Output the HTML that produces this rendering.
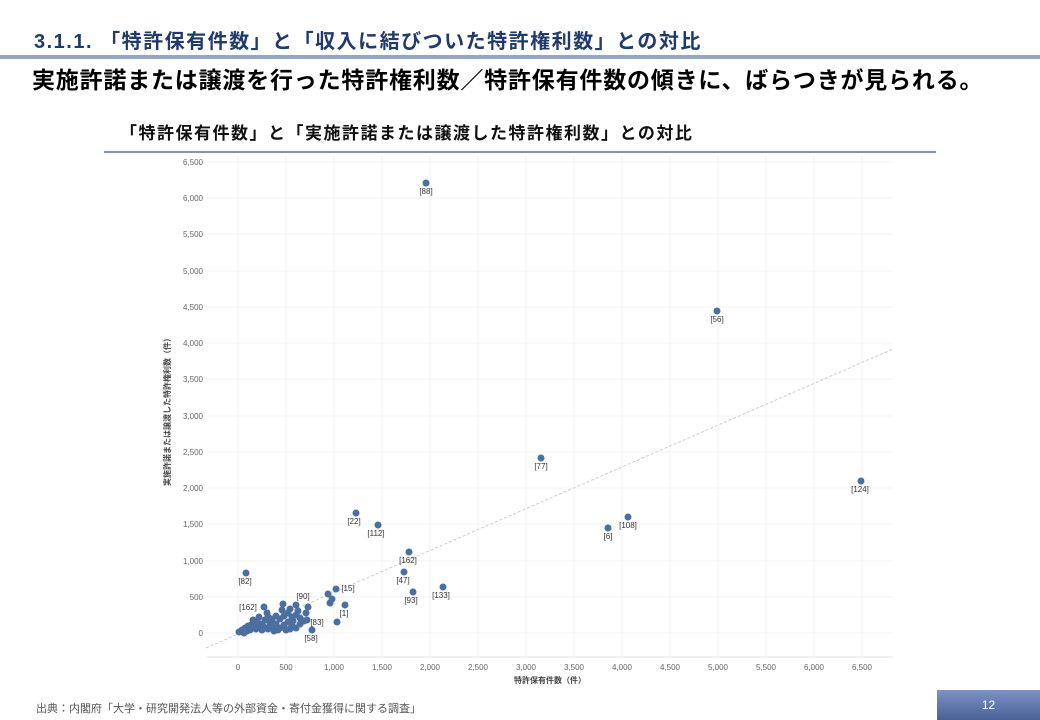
<!DOCTYPE html>
<html><head><meta charset="utf-8"><style>
body{margin:0;width:1040px;height:720px;background:#fff;position:relative;overflow:hidden;font-family:"Liberation Sans","Noto Sans CJK JP",sans-serif}
.a{position:absolute;white-space:nowrap}
</style></head><body>
<div class="a" style="left:34px;top:25px;font-size:20px;letter-spacing:1.5px;font-weight:bold;color:#1f3a6e">3.1.1. 「特許保有件数」と「収入に結びついた特許権利数」との対比</div>
<div class="a" style="left:0;top:55px;width:1040px;height:4px;background:#8fa6d2"></div>
<div class="a" style="left:32px;top:61px;font-size:23px;letter-spacing:0.8px;font-weight:bold;color:#000">実施許諾または譲渡を行った特許権利数／特許保有件数の傾きに、ばらつきが見られる。</div>
<div class="a" style="left:120px;top:119px;font-size:17px;letter-spacing:1.5px;font-weight:bold;color:#111">「特許保有件数」と「実施許諾または譲渡した特許権利数」との対比</div>
<div class="a" style="left:104px;top:151px;width:832px;height:2px;background:#7e94c6"></div>
<svg class="a" style="left:0;top:0" width="1040" height="720" font-family="Liberation Sans, Noto Sans CJK JP, sans-serif">
<g stroke="#f3f3f3" stroke-width="1">
<line x1="206" y1="162" x2="893" y2="162"/><line x1="206" y1="198" x2="893" y2="198"/><line x1="206" y1="234" x2="893" y2="234"/><line x1="206" y1="271" x2="893" y2="271"/><line x1="206" y1="307" x2="893" y2="307"/><line x1="206" y1="343" x2="893" y2="343"/><line x1="206" y1="379" x2="893" y2="379"/><line x1="206" y1="416" x2="893" y2="416"/><line x1="206" y1="452" x2="893" y2="452"/><line x1="206" y1="488" x2="893" y2="488"/><line x1="206" y1="524" x2="893" y2="524"/><line x1="206" y1="561" x2="893" y2="561"/><line x1="206" y1="597" x2="893" y2="597"/><line x1="206" y1="633" x2="893" y2="633"/>
<line x1="238" y1="155" x2="238" y2="657"/><line x1="286" y1="155" x2="286" y2="657"/><line x1="334" y1="155" x2="334" y2="657"/><line x1="382" y1="155" x2="382" y2="657"/><line x1="430" y1="155" x2="430" y2="657"/><line x1="478" y1="155" x2="478" y2="657"/><line x1="526" y1="155" x2="526" y2="657"/><line x1="574" y1="155" x2="574" y2="657"/><line x1="622" y1="155" x2="622" y2="657"/><line x1="670" y1="155" x2="670" y2="657"/><line x1="718" y1="155" x2="718" y2="657"/><line x1="766" y1="155" x2="766" y2="657"/><line x1="814" y1="155" x2="814" y2="657"/><line x1="862" y1="155" x2="862" y2="657"/>
<line x1="206" y1="657" x2="893" y2="657" stroke="#e4e4e4"/>
</g>
<line x1="206" y1="648" x2="893" y2="349" stroke="#ccc" stroke-dasharray="3,2"/>
<g font-size="8" fill="#666" text-anchor="end">
<text x="203" y="165">6,500</text><text x="203" y="201">6,000</text><text x="203" y="237">5,500</text><text x="203" y="274">5,000</text><text x="203" y="310">4,500</text><text x="203" y="346">4,000</text><text x="203" y="382">3,500</text><text x="203" y="419">3,000</text><text x="203" y="455">2,500</text><text x="203" y="491">2,000</text><text x="203" y="527">1,500</text><text x="203" y="564">1,000</text><text x="203" y="600">500</text><text x="203" y="636">0</text>
</g>
<g font-size="8" fill="#666" text-anchor="middle">
<text x="238" y="670">0</text><text x="286" y="670">500</text><text x="334" y="670">1,000</text><text x="382" y="670">1,500</text><text x="430" y="670">2,000</text><text x="478" y="670">2,500</text><text x="526" y="670">3,000</text><text x="574" y="670">3,500</text><text x="622" y="670">4,000</text><text x="670" y="670">4,500</text><text x="718" y="670">5,000</text><text x="766" y="670">5,500</text><text x="814" y="670">6,000</text><text x="862" y="670">6,500</text>
<text x="550" y="683" font-weight="bold" fill="#444">特許保有件数（件）</text>
</g>
<text x="170" y="410" font-size="8" font-weight="bold" fill="#444" text-anchor="middle" transform="rotate(-90 170 410)">実施許諾または譲渡した特許権利数（件）</text>
<g fill="#4a6fa0">
<circle cx="426" cy="183" r="3.5"/><circle cx="717" cy="311" r="3.5"/><circle cx="541" cy="458" r="3.5"/><circle cx="861" cy="481" r="3.5"/><circle cx="608" cy="528" r="3.5"/><circle cx="628" cy="517" r="3.5"/><circle cx="356" cy="513" r="3.5"/><circle cx="378" cy="525" r="3.5"/><circle cx="409" cy="552" r="3.5"/><circle cx="404" cy="572" r="3.5"/><circle cx="413" cy="592" r="3.5"/><circle cx="443" cy="587" r="3.5"/><circle cx="246" cy="573" r="3.5"/><circle cx="336" cy="589" r="3.5"/><circle cx="345" cy="605" r="3.5"/><circle cx="337" cy="622" r="3.5"/><circle cx="328" cy="594" r="3.5"/><circle cx="330" cy="603" r="3.5"/><circle cx="332" cy="599" r="3.5"/>
<circle cx="264" cy="607" r="3.5"/><circle cx="283" cy="604" r="3.5"/><circle cx="296" cy="605" r="3.5"/><circle cx="308" cy="607" r="3.5"/><circle cx="306" cy="613" r="3.5"/><circle cx="307" cy="620" r="3.5"/><circle cx="312" cy="630" r="3.5"/><circle cx="267" cy="613" r="3.5"/><circle cx="268" cy="617" r="3.5"/><circle cx="265" cy="620" r="3.5"/>
<circle cx="239" cy="632" r="3.5"/><circle cx="242" cy="630" r="3.5"/><circle cx="245" cy="628" r="3.5"/><circle cx="248" cy="626" r="3.5"/><circle cx="251" cy="625" r="3.5"/><circle cx="254" cy="623" r="3.5"/><circle cx="257" cy="622" r="3.5"/><circle cx="260" cy="624" r="3.5"/><circle cx="263" cy="626" r="3.5"/><circle cx="250" cy="630" r="3.5"/><circle cx="256" cy="629" r="3.5"/><circle cx="262" cy="630" r="3.5"/><circle cx="268" cy="629" r="3.5"/><circle cx="272" cy="627" r="3.5"/><circle cx="276" cy="624" r="3.5"/><circle cx="280" cy="628" r="3.5"/><circle cx="284" cy="625" r="3.5"/><circle cx="288" cy="622" r="3.5"/><circle cx="292" cy="626" r="3.5"/><circle cx="296" cy="628" r="3.5"/><circle cx="300" cy="624" r="3.5"/><circle cx="274" cy="631" r="3.5"/><circle cx="286" cy="630" r="3.5"/><circle cx="244" cy="633" r="3.5"/><circle cx="272" cy="619" r="3.5"/><circle cx="276" cy="616" r="3.5"/><circle cx="280" cy="619" r="3.5"/><circle cx="284" cy="616" r="3.5"/><circle cx="288" cy="613" r="3.5"/><circle cx="292" cy="617" r="3.5"/><circle cx="296" cy="615" r="3.5"/><circle cx="300" cy="618" r="3.5"/><circle cx="293" cy="621" r="3.5"/><circle cx="282" cy="610" r="3.5"/><circle cx="290" cy="609" r="3.5"/><circle cx="253" cy="620" r="3.5"/><circle cx="259" cy="617" r="3.5"/><circle cx="270" cy="623" r="3.5"/><circle cx="304" cy="621" r="3.5"/><circle cx="298" cy="611" r="3.5"/>
<circle cx="247" cy="631" r="3.5"/><circle cx="253" cy="628" r="3.5"/><circle cx="259" cy="627" r="3.5"/><circle cx="266" cy="628" r="3.5"/><circle cx="278" cy="630" r="3.5"/><circle cx="290" cy="629" r="3.5"/>
</g>
<g font-size="8" fill="#333" text-anchor="middle">
<text x="426" y="194">[88]</text><text x="717" y="322">[56]</text><text x="541" y="469">[77]</text><text x="860" y="492">[124]</text><text x="608" y="539">[6]</text><text x="628" y="528">[108]</text><text x="354" y="524">[22]</text><text x="376" y="536">[112]</text><text x="408" y="563">[162]</text><text x="403" y="583">[47]</text><text x="411" y="603">[93]</text><text x="441" y="598">[133]</text><text x="245" y="584">[82]</text><text x="348" y="591">[15]</text><text x="344" y="616">[1]</text><text x="303" y="599">[90]</text><text x="317" y="625">[83]</text><text x="311" y="641">[58]</text><text x="248" y="610">[162]</text>
</g>
</svg>
<div class="a" style="left:36px;top:700px;font-size:11px;color:#555">出典：内閣府「大学・研究開発法人等の外部資金・寄付金獲得に関する調査」</div>
<div class="a" style="left:937px;top:690px;width:103px;height:30px;background:linear-gradient(#7a92c4,#4a6296);color:#fff;font-size:12px;text-align:center;line-height:30px">12</div>
</body></html>
